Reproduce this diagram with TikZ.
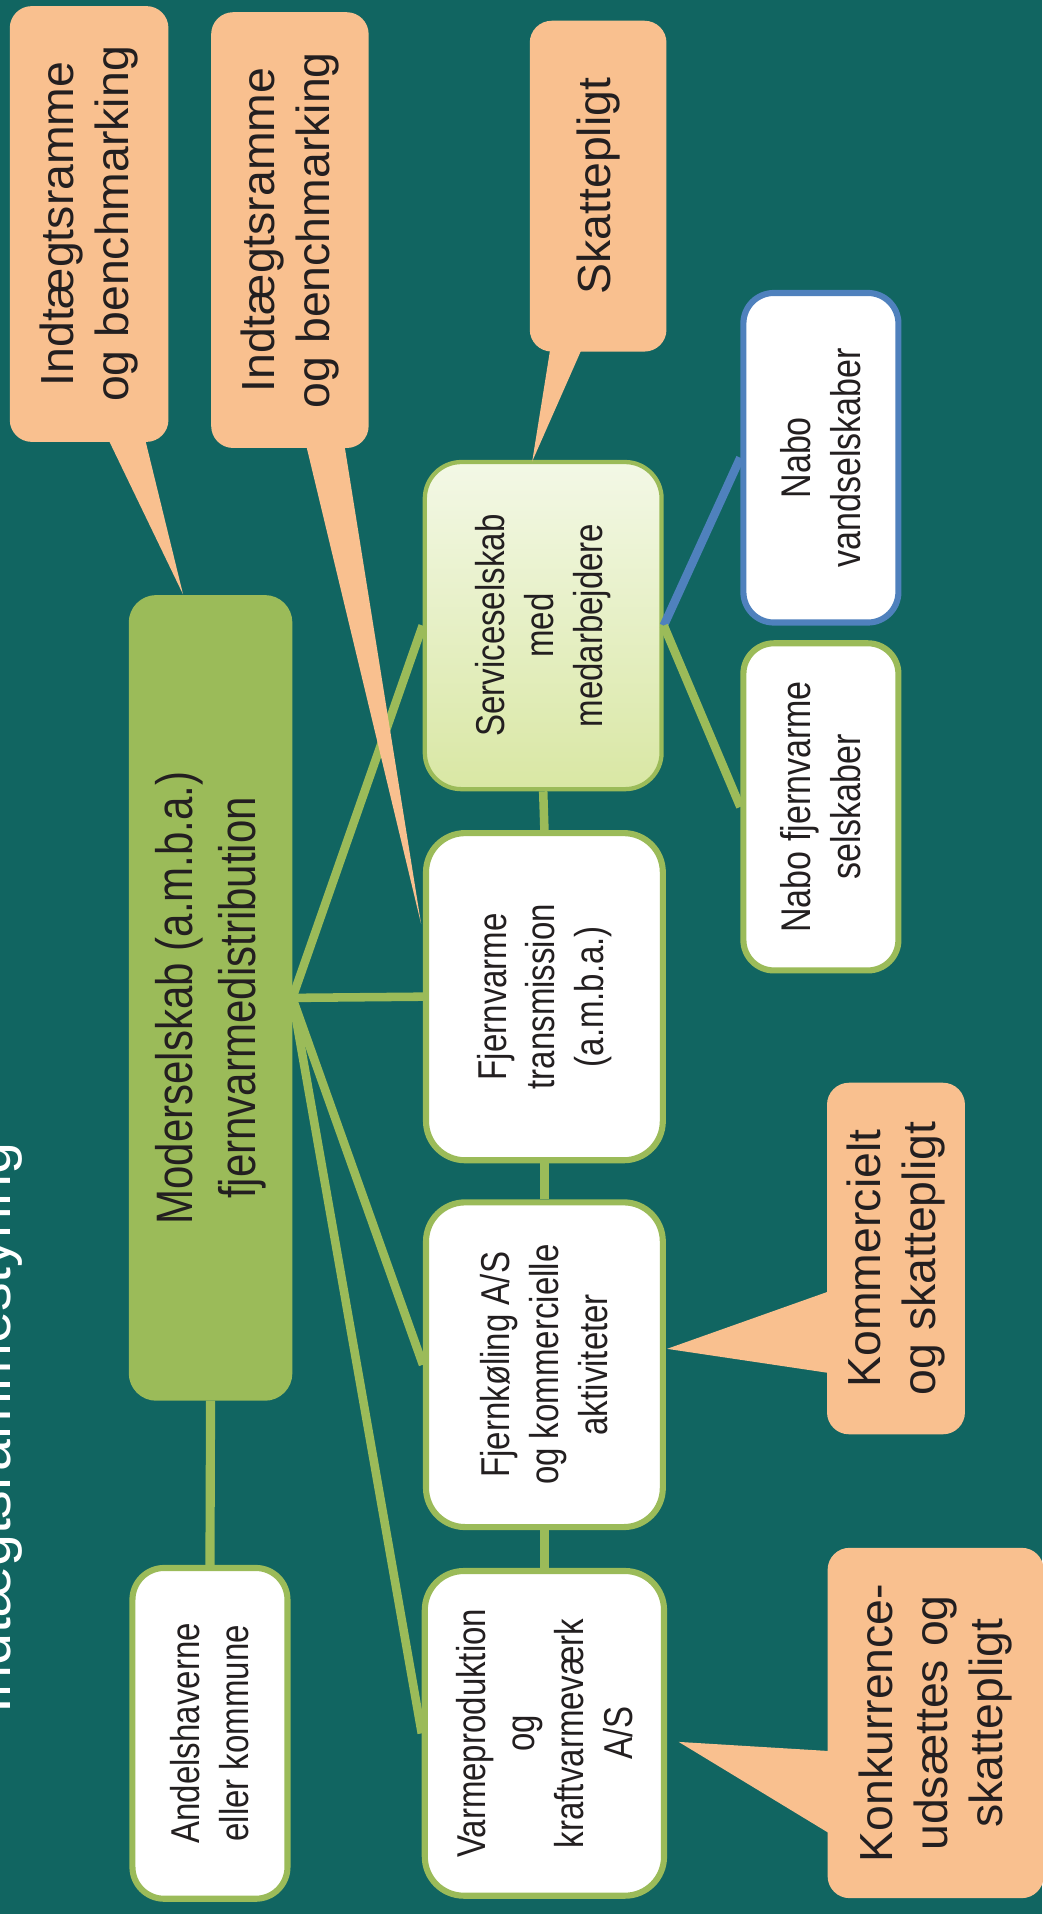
\documentclass[tikz,border=0pt]{standalone}
\usepackage{fontspec}
\setmainfont{Liberation Sans}
\newfontfamily\narrowfont[FakeStretch=0.82]{Liberation Sans}
\usepackage{tikz}
\usetikzlibrary{positioning, shapes.geometric, arrows, calc}

\definecolor{bgteal}{RGB}{17,101,97}
\definecolor{leafgreen}{RGB}{155,187,89}
\definecolor{paleleaf}{RGB}{243,248,230}
\definecolor{limeleaf}{RGB}{217,231,164}
\definecolor{peach}{RGB}{249,192,143}
\definecolor{nboblue}{RGB}{79,129,189}
\definecolor{inktext}{RGB}{35,31,32}

\tikzstyle{unit} = [rectangle, rounded corners=32pt, draw=leafgreen, line width=5pt, fill=white, rotate=90, align=center, text=inktext, inner sep=0pt, font=\narrowfont\fontsize{33}{40}\selectfont]
\tikzstyle{parent} = [unit, fill=leafgreen, rounded corners=20pt, font=\narrowfont\fontsize{42}{52}\selectfont]
\tikzstyle{service} = [unit, line width=3.5pt, rounded corners=30pt, top color=paleleaf, bottom color=limeleaf]
\tikzstyle{note} = [rectangle, rounded corners=18pt, fill=peach, rotate=90, align=center, text=inktext, inner sep=0pt, font=\fontsize{38}{45}\selectfont]
\tikzstyle{link} = [leafgreen, line width=7pt]

\begin{document}
\begin{tikzpicture}[x=1pt, y=-1pt]
  \useasboundingbox (0,0) rectangle (854,1568);
  \fill[bgteal] (0,0) rectangle (854,1568);

  % Title, mostly outside the page
  \node[rotate=90, anchor=base, text=white, inner sep=0pt, font=\fontsize{47}{56}\selectfont] (title) at (9,1170) {Indtægtsrammestyring};

  % Parent company and owners
  \node[parent, minimum width=655pt, minimum height=129pt] (mod) at (172.5,817.5) {Moderselskab (a.m.b.a.)\\fjernvarmedistribution};
  \node[unit, rounded corners=26pt, minimum width=271pt, minimum height=127pt] (owner) at (172,1420) {Andelshaverne\\eller kommune};

  % Subsidiaries
  \node[service, minimum width=268pt, minimum height=194pt] (serv) at (445,512.5) {Serviceselskab\\med\\medarbejdere};
  \node[unit, minimum width=268pt, minimum height=194pt] (trans) at (446,816.5) {Fjernvarme\\transmission\\(a.m.b.a.)};
  \node[unit, minimum width=266pt, minimum height=194pt] (cool) at (446,1118) {Fjernkøling A/S\\og kommercielle\\aktiviteter};
  \node[unit, minimum width=266pt, minimum height=196pt] (heat) at (446,1420) {Varmeproduktion\\og\\kraftvarmeværk\\A/S};

  % Neighbours
  \node[unit, draw=nboblue, rounded corners=25pt, minimum width=270pt, minimum height=127pt, font=\narrowfont\fontsize{34}{41}\selectfont] (water) at (672.5,375) {Nabo\\vandselskaber};
  \node[unit, rounded corners=25pt, minimum width=268pt, minimum height=127pt, font=\narrowfont\fontsize{34}{41}\selectfont] (dhnb) at (672.5,661) {Nabo fjernvarme\\selskaber};

  % Connectors
  \foreach \sub in {serv, trans, cool, heat}
    \draw[link] (mod.south) -- (\sub.north);
  \draw[link, line width=7.5pt] (mod.west) -- (owner.east);
  \draw[link] (serv.west) -- (trans.east);
  \draw[link] (trans.west) -- (cool.east);
  \draw[link] (cool.west) -- (heat.east);
  \draw[link, nboblue] (serv.south) -- (water.north);
  \draw[link] (serv.south) -- (dhnb.north);

  % Callouts
  \node[note, minimum width=357pt, minimum height=130pt] (c1) at (73,183.5) {Indtægtsramme\\og benchmarking};
  \node[note, minimum width=357pt, minimum height=129pt] (c2) at (237.5,188.5) {Indtægtsramme\\og benchmarking};
  \node[note, minimum width=271pt, minimum height=112pt] (c3) at (490,152.5) {Skattepligt};
  \node[note, minimum width=288pt, minimum height=113pt] (c4) at (734,1031) {Kommercielt\\og skattepligt};
  \node[note, minimum width=287pt, minimum height=177pt] (c5) at (766.5,1411.5) {Konkurrence-\\udsættes og\\skattepligt};

  \coordinate (tip1) at (150,487);
  \coordinate (tip2) at (345,757);
  \coordinate (tip3) at (436,378);
  \coordinate (tip4) at (546.5,1105);
  \coordinate (tip5) at (556,1427);

  \fill[peach] ($(c1.west)+(12,-10)$) -- (tip1) -- ($(c1.west)+(44,-10)$) -- cycle;
  \fill[peach] ($(c2.west)+(11.5,-10)$) -- (tip2) -- ($(c2.west)+(43.5,-10)$) -- cycle;
  \fill[peach] ($(c3.west)+(-38,-10)$) -- (tip3) -- ($(c3.west)+(-10,-10)$) -- cycle;
  \fill[peach] ($(c4.north)+(10,24)$) -- (tip4) -- ($(c4.north)+(10,95)$) -- cycle;
  \fill[peach] ($(c5.north)+(10,23.5)$) -- (tip5) -- ($(c5.north)+(10,95.5)$) -- cycle;
\end{tikzpicture}
\end{document}
